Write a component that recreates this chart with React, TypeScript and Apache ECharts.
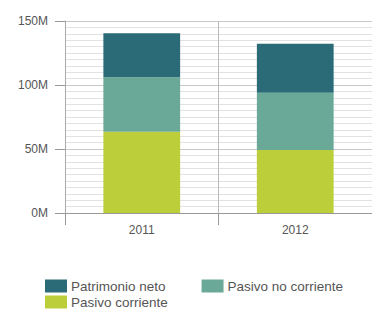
import React, { useEffect, useRef } from "react";
import * as echarts from "echarts";

const categories = ["2011", "2012"];
const pasivoCorriente = [63.5, 49.2];
const pasivoNoCorriente = [42.5, 44.8];
const patrimonioNeto = [34.4, 38.3];
const yTicks = [0, 50, 100, 150];

const COLORS = {
  patrimonio: "#2a6b77",
  noCorriente: "#6aa997",
  corriente: "#bccf3b",
};

export default function App() {
  const ref = useRef<HTMLDivElement>(null);
  useEffect(() => {
    if (!ref.current) return;
    const chart = echarts.init(ref.current, null, { renderer: "svg" });
    const textStyle = { fontFamily: "Liberation Sans, Arial, sans-serif", color: "#555" };
    const legendText = { ...textStyle, fontSize: 13.5, lineHeight: 13, padding: [0, 0, 0, -1] };
    chart.setOption({
      animation: false,
      grid: { left: 65, top: 21, width: 314, height: 192, containLabel: false },
      xAxis: {
        type: "category",
        data: categories,
        boundaryGap: true,
        axisLine: { show: true, lineStyle: { color: "#999", width: 1 } },
        axisTick: { show: true, length: 12, lineStyle: { color: "#999" } },
        axisLabel: { ...textStyle, fontSize: 12, margin: 11 },
        splitLine: { show: true, lineStyle: { color: "#bbb", width: 1 } },
      },
      yAxis: {
        type: "value",
        min: yTicks[0],
        max: yTicks[yTicks.length - 1],
        interval: 50,
        axisLine: { show: true, lineStyle: { color: "#aaa", width: 1 } },
        axisTick: { show: true, length: 10, lineStyle: { color: "#999" } },
        axisLabel: { ...textStyle, fontSize: 12, margin: 17, formatter: "{value}M" },
        splitLine: { show: true, lineStyle: { color: "#c8c8c8", width: 1 } },
        minorTick: { show: false, splitNumber: 10 },
        minorSplitLine: { show: true, lineStyle: { color: "#e2e2e2", width: 1 } },
      },
      legend: [
        {
          left: 40,
          top: 274,
          itemWidth: 22,
          itemHeight: 13,
          itemGap: 36,
          icon: "rect",
          data: ["Patrimonio neto", "Pasivo no corriente"],
          textStyle: legendText,
        },
        {
          left: 40,
          top: 290,
          itemWidth: 22,
          itemHeight: 13,
          itemGap: 36,
          icon: "rect",
          data: ["Pasivo corriente"],
          textStyle: legendText,
        },
      ],
      series: [
        {
          name: "Pasivo corriente",
          type: "bar",
          stack: "total",
          barWidth: "50%",
          data: pasivoCorriente,
          itemStyle: { color: COLORS.corriente },
        },
        {
          name: "Pasivo no corriente",
          type: "bar",
          stack: "total",
          barWidth: "50%",
          data: pasivoNoCorriente,
          itemStyle: { color: COLORS.noCorriente },
        },
        {
          name: "Patrimonio neto",
          type: "bar",
          stack: "total",
          barWidth: "50%",
          data: patrimonioNeto,
          itemStyle: { color: COLORS.patrimonio },
        },
      ],
    });
    return () => chart.dispose();
  }, []);
  return (
    <div
      ref={ref}
      style={{ position: "absolute", left: 0, top: 0, width: 372, height: 309, background: "#fff" }}
    />
  );
}
